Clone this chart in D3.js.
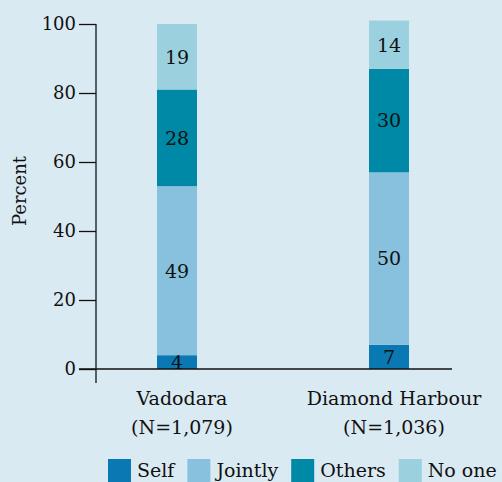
<!DOCTYPE html>
<html>
<head>
<meta charset="utf-8">
<script src="https://cdn.jsdelivr.net/npm/d3@7"></script>
<style>
  body { margin: 0; background: #daeaf3; }
  svg { display: block; font-family: "DejaVu Serif", serif; }
</style>
</head>
<body>
<svg width="502" height="482"></svg>
<script>
// Data
const sites = ["Vadodara", "Diamond Harbour"];
const siteN = ["(N=1,079)", "(N=1,036)"];
const groups = ["Self", "Jointly", "Others", "No one"];
const selfVals = [4, 7];
const jointlyVals = [49, 50];
const othersVals = [28, 30];
const noOneVals = [19, 14];
const yTicks = [0, 20, 40, 60, 80, 100];

const colors = ["#0a79b3", "#87c1de", "#0089a6", "#9bd0df"];

// build rows for the stack
let rows = sites.map((s, i) => ({
  site: s,
  "Self": selfVals[i],
  "Jointly": jointlyVals[i],
  "Others": othersVals[i],
  "No one": noOneVals[i]
}));

let svg = d3.select("svg");

let x = d3.scaleBand().domain(sites).range([71, 495]);
let y = d3.scaleLinear().domain([0, 100]).range([369, 24]);
let color = d3.scaleOrdinal().domain(groups).range(colors);
let barW = 40;

let series = d3.stack().keys(groups)(rows);

// Bars
let layer = svg.append("g").selectAll("g")
    .data(series)
    .enter().append("g")
    .attr("fill", d => color(d.key));

layer.selectAll("rect")
    .data(d => d)
    .enter().append("rect")
    .attr("x", d => x(d.data.site) + x.bandwidth() / 2 - barW / 2)
    .attr("y", d => y(d[1]))
    .attr("width", barW)
    .attr("height", d => y(d[0]) - y(d[1]));

// Value labels
layer.selectAll("text")
    .data(d => d)
    .enter().append("text")
    .attr("x", d => x(d.data.site) + x.bandwidth() / 2)
    .attr("y", d => (y(d[0]) + y(d[1])) / 2)
    .attr("dy", "0.36em")
    .attr("text-anchor", "middle")
    .attr("font-size", 19)
    .attr("fill", "#111")
    .text(d => d[1] - d[0]);

// Y axis
let yAxis = svg.append("g")
    .attr("transform", "translate(96,0)")
    .call(d3.axisLeft(y).tickValues(yTicks).tickSize(17).tickPadding(3).tickSizeOuter(0));
yAxis.select(".domain").remove();
yAxis.selectAll("line").attr("stroke", "#111").attr("stroke-width", 1.3);
yAxis.selectAll("text")
    .attr("font-size", 18)
    .attr("font-family", "DejaVu Serif, serif")
    .attr("fill", "#111");

svg.append("line")
    .attr("x1", 96).attr("x2", 96)
    .attr("y1", y(100)).attr("y2", 383)
    .attr("stroke", "#111").attr("stroke-width", 1.3);

// X axis line
svg.append("line")
    .attr("x1", 79).attr("x2", 452)
    .attr("y1", y(0)).attr("y2", y(0))
    .attr("stroke", "#111").attr("stroke-width", 1.3);

// Category labels
let cat = svg.append("g").selectAll("text")
    .data(sites)
    .enter().append("text")
    .attr("x", d => x(d) + x.bandwidth() / 2 + 5)
    .attr("text-anchor", "middle")
    .attr("font-size", 19)
    .attr("fill", "#111");
cat.append("tspan").attr("y", 405).text(d => d);
cat.append("tspan")
    .attr("x", d => x(d) + x.bandwidth() / 2 + 5)
    .attr("y", 434)
    .text((d, i) => siteN[i]);

// Y label
svg.append("text")
    .attr("transform", "translate(26,191) rotate(-90)")
    .attr("text-anchor", "middle")
    .attr("font-size", 18)
    .attr("fill", "#111")
    .text("Percent");

// Legend
let legend = svg.append("g");
let lx = 108;
groups.forEach(function(g) {
  legend.append("rect")
      .attr("x", lx).attr("y", 459)
      .attr("width", 23).attr("height", 23)
      .attr("fill", color(g));
  let t = legend.append("text")
      .attr("x", lx + 29).attr("y", 477)
      .attr("font-size", 19)
      .attr("fill", "#111")
      .text(g);
  lx += 29 + t.node().getComputedTextLength() + 13;
});
</script>
</body>
</html>
